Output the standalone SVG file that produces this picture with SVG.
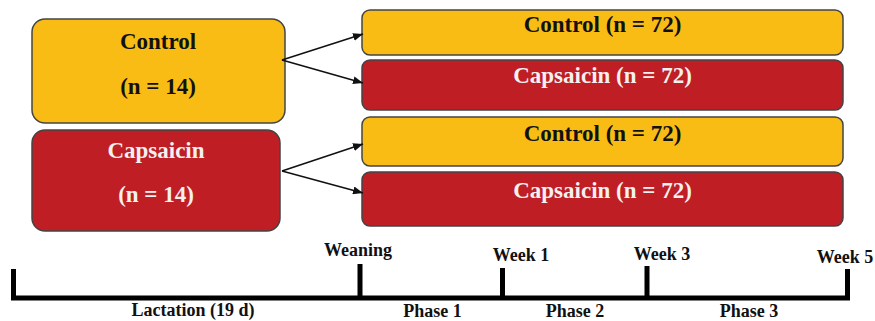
<svg xmlns="http://www.w3.org/2000/svg" width="875" height="321" viewBox="0 0 875 321">
<defs>
<style>
.t{font-family:"Liberation Serif","Times New Roman",serif;font-weight:bold;text-anchor:middle}
.big{font-size:23px}
.sm{font-size:18px}
.dark{fill:#111}
.light{fill:#f4f0f0}
.yel{fill:#F9BC15;stroke:#444;stroke-width:1.5}
.red{fill:#BE1E24;stroke:#444;stroke-width:1.5}
.arr{stroke:#111;stroke-width:1.6;fill:none;marker-end:url(#ah)}
.tl{stroke:#000;stroke-width:5;fill:none}
</style>
<marker id="ah" viewBox="0 0 10 8" refX="10" refY="4" markerWidth="10" markerHeight="8" markerUnits="userSpaceOnUse" orient="auto">
<path d="M0,0 L10,4 L0,8 Z" fill="#111"/>
</marker>
</defs>
<rect width="875" height="321" fill="#fff"/>
<g id="dam-control">
<rect class="yel" x="32" y="19" width="253" height="104" rx="13"/>
<text class="t big dark" x="158" y="49">Control</text>
<text class="t big dark" x="158" y="94">(n = 14)</text>
</g>
<g id="dam-capsaicin">
<rect class="red" x="32" y="130" width="248" height="101" rx="13"/>
<text class="t big light" x="156" y="158">Capsaicin</text>
<text class="t big light" x="156" y="202">(n = 14)</text>
</g>
<g id="pup-cc">
<rect class="yel" x="362" y="10" width="481" height="45" rx="8"/>
<text class="t big dark" x="602.5" y="32">Control (n = 72)</text>
</g>
<g id="pup-cca">
<rect class="red" x="362" y="60" width="481" height="50" rx="8"/>
<text class="t big light" x="602.5" y="83">Capsaicin (n = 72)</text>
</g>
<g id="pup-cac">
<rect class="yel" x="362" y="117" width="481" height="49" rx="8"/>
<text class="t big dark" x="602.5" y="141">Control (n = 72)</text>
</g>
<g id="pup-caca">
<rect class="red" x="362" y="172" width="481" height="54" rx="8"/>
<text class="t big light" x="602.5" y="198">Capsaicin (n = 72)</text>
</g>
<g id="connectors">
<line class="arr" x1="282" y1="60" x2="363" y2="34"/>
<line class="arr" x1="282" y1="60" x2="363" y2="83"/>
<line class="arr" x1="282" y1="171" x2="363" y2="144"/>
<line class="arr" x1="282" y1="171" x2="363" y2="193"/>
</g>
<g id="timeline">
<path class="tl" d="M13.5,269 V298 H847.5 V269"/>
<path class="tl" d="M360,264 V298 M502.5,268 V298 M647,266 V298"/>
<text class="t sm dark" x="358" y="256">Weaning</text>
<text class="t sm dark" x="521" y="261">Week 1</text>
<text class="t sm dark" x="662" y="260">Week 3</text>
<text class="t sm dark" x="845" y="263">Week 5</text>
<text class="t sm dark" x="193" y="316">Lactation (19 d)</text>
<text class="t sm dark" x="432.5" y="317">Phase 1</text>
<text class="t sm dark" x="575" y="317">Phase 2</text>
<text class="t sm dark" x="749" y="317">Phase 3</text>
</g>
</svg>
